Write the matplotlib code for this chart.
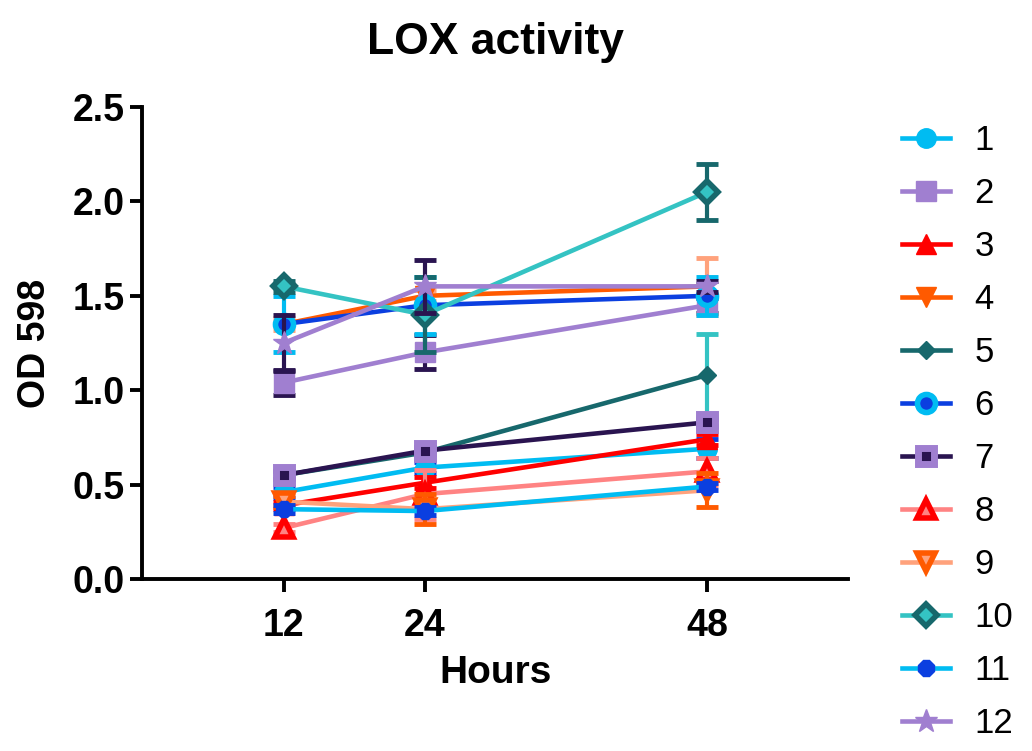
import numpy as np
import matplotlib.pyplot as plt

plt.rcParams['font.family'] = ['Liberation Sans', 'DejaVu Sans']

hours = [12, 24, 48]
labels = ['1', '2', '3', '4', '5', '6', '7', '8', '9', '10', '11', '12']

# mean OD 598 per series
s1 = [0.46, 0.59, 0.69]
s2 = [1.04, 1.20, 1.45]
s3 = [0.39, 0.51, 0.74]
s4 = [1.35, 1.50, 1.55]
s5 = [0.55, 0.67, 1.08]
s6 = [1.35, 1.45, 1.50]
s7 = [0.55, 0.68, 0.83]
s8 = [0.27, 0.45, 0.57]
s9 = [0.41, 0.37, 0.47]
s10 = [1.55, 1.40, 2.05]
s11 = [0.37, 0.36, 0.49]
s12 = [1.25, 1.55, 1.55]

# error (SD)
e1 = [0.03, 0.03, 0.05]
e2 = [0.065, 0.09, 0.04]
e3 = [0.02, 0.03, 0.03]
e4 = [0.03, 0.03, 0.15]
e5 = [0.02, 0.03, 0.22]
e6 = [0.15, 0.15, 0.10]
e7 = [0.02, 0.02, 0.02]
e8 = [0.02, 0.13, 0.07]
e9 = [0.03, 0.08, 0.09]
e10 = [0.03, 0.20, 0.15]
e11 = [0.02, 0.02, 0.02]
e12 = [0.15, 0.14, 0.03]

means = [s1, s2, s3, s4, s5, s6, s7, s8, s9, s10, s11, s12]
errs = [e1, e2, e3, e4, e5, e6, e7, e8, e9, e10, e11, e12]

cyan = '#00BCF2'
lav = '#A07FD0'
red = '#FF0000'
orange = '#FF5A00'
teal = '#17686C'
blue = '#0B3FE0'
dpurp = '#2A1450'
salmon = '#FF8383'
lsalmon = '#FFA27C'
turq = '#34C3C3'

# line color, marker, face, edge, marker size, edge width, error color
styles = [
    (cyan, 'o', cyan, cyan, 14, 1, blue),
    (lav, 's', lav, lav, 14, 1, dpurp),
    (red, '^', red, red, 14, 1, red),
    (orange, 'v', orange, orange, 14, 1, lsalmon),
    (teal, 'D', teal, teal, 9, 1, turq),
    (blue, 'o', blue, cyan, 13, 4, cyan),
    (dpurp, 's', dpurp, lav, 12, 5, dpurp),
    (salmon, '^', salmon, red, 13, 4, salmon),
    (lsalmon, 'v', lsalmon, orange, 13, 4, orange),
    (turq, 'D', turq, teal, 11, 4, teal),
    (cyan, '8', blue, blue, 13, 1, blue),
    (lav, '*', lav, lav, 17, 1, dpurp),
]

fig = plt.figure(figsize=(10.32, 7.51), dpi=100)
ax = fig.add_axes([0.138, 0.229, 0.684, 0.6285])

for i in range(12):
    lc, mk, fc, ec, ms, mew, errc = styles[i]
    ax.errorbar(hours, means[i], yerr=errs[i], fmt='none', ecolor=errc,
                elinewidth=3, capsize=8, capthick=3.5, zorder=2 + i)
    ax.plot(hours, means[i], color=lc, lw=3.3, marker=mk, ms=ms,
            mfc=fc, mec=ec, mew=mew, label=labels[i], zorder=2.5 + i)

ax.set_xlim(0, 60)
ax.set_ylim(0, 2.5)
ax.set_xticks(hours)
ax.set_yticks(np.arange(0, 2.51, 0.5))
ax.yaxis.set_major_formatter(plt.FormatStrFormatter('%.1f'))

for side in ['top', 'right']:
    ax.spines[side].set_visible(False)
for side in ['left', 'bottom']:
    ax.spines[side].set_linewidth(2.8)
ax.tick_params(axis='both', width=2.8, length=9, labelsize=27)
ax.tick_params(axis='y', pad=4)
ax.tick_params(axis='x', pad=12)
for t in ax.get_xticklabels() + ax.get_yticklabels():
    t.set_fontweight('bold')

ax.set_xlabel('Hours', fontsize=28, fontweight='bold', labelpad=8)
ax.set_ylabel('OD 598', fontsize=27, fontweight='bold', labelpad=14)
ax.set_title('LOX activity', fontsize=32, fontweight='bold', pad=38)

ax.legend(loc='upper left', bbox_to_anchor=(1.056, 0.993), frameon=False,
          fontsize=25, numpoints=1, handlelength=1.4, handletextpad=0.7,
          labelspacing=0.575, borderaxespad=0)

fig.savefig('out.png', dpi=100)
